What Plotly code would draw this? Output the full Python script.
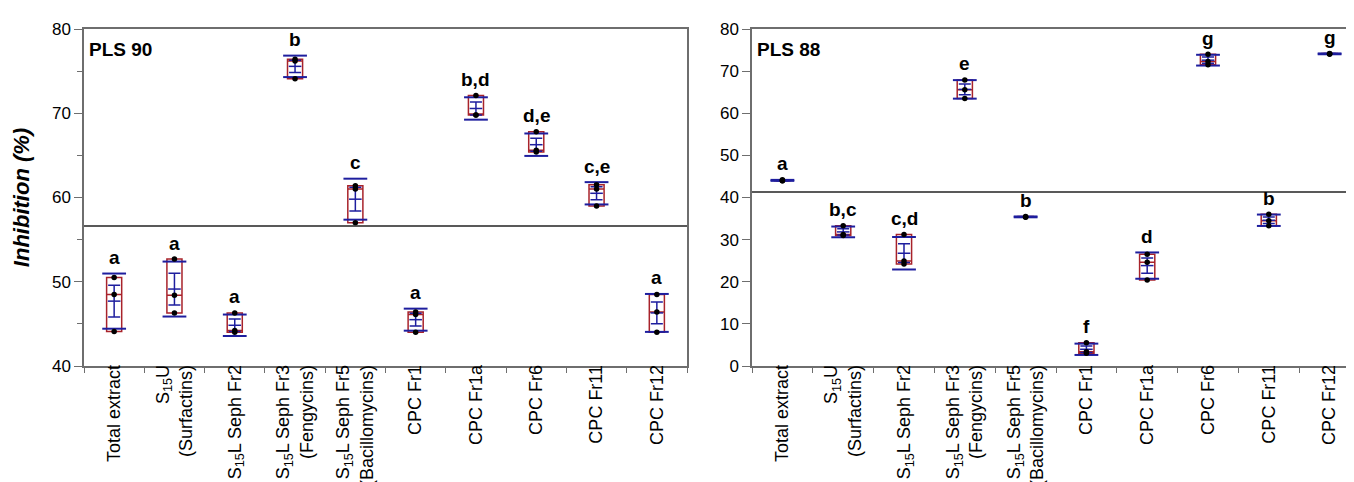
import numpy as np
import plotly.graph_objects as go

# ---------------- data ----------------
cat_keys = ["TE", "S15U", "Fr2", "Fr3", "Fr5", "CPC1", "CPC1a", "CPC6", "CPC11", "CPC12"]
cat_labels = [
    "Total extract",
    "S<sub>15</sub>U<br>(Surfactins)",
    "S<sub>15</sub>L Seph Fr2",
    "S<sub>15</sub>L Seph Fr3<br>(Fengycins)",
    "S<sub>15</sub>L Seph Fr5<br>(Bacillomycins)",
    "CPC Fr1",
    "CPC Fr1a",
    "CPC Fr6",
    "CPC Fr11",
    "CPC Fr12",
]

# three replicate inhibition values (%) per fraction
pls90_values = [
    [50.5, 48.5, 44.1],
    [52.7, 48.4, 46.3],
    [46.3, 44.0, 44.2],
    [76.4, 76.2, 74.1],
    [61.4, 61.0, 57.0],
    [46.4, 46.1, 44.0],
    [72.1, 69.8, 69.8],
    [67.8, 65.6, 65.4],
    [61.5, 61.0, 59.0],
    [48.5, 46.4, 44.0],
]
pls88_values = [
    [44.2, 44.0, 44.0],
    [33.3, 31.2, 31.0],
    [31.2, 24.9, 24.2],
    [67.9, 65.6, 63.5],
    [35.5, 35.3, 35.4],
    [5.5, 3.4, 3.0],
    [26.5, 24.6, 20.4],
    [74.0, 72.3, 71.5],
    [36.0, 34.5, 33.3],
    [74.2, 74.1, 74.0],
]
pls90_letters = ["a", "a", "a", "b", "c", "a", "b,d", "d,e", "c,e", "a"]
pls88_letters = ["a", "b,c", "c,d", "e", "b", "f", "d", "g", "b", "g"]

# ---------------- style ----------------
FONT = "Liberation Sans, Arial, sans-serif"
RED = "#A8232B"
BLUE = "#1E1E9E"
AXIS = "#6E6E6E"

fig = go.Figure()


def add_panel(values, letters, xa, ya, title):
    xs, ys = [], []
    for k, v in zip(cat_keys, values):
        xs += [k] * len(v)
        ys += list(v)
    arr = np.array(values, dtype=float)
    means = arr.mean(axis=1)
    sds = arr.std(axis=1, ddof=1)
    ses = sds / np.sqrt(arr.shape[1])

    fig.add_trace(go.Box(
        x=xs, y=ys, xaxis=xa, yaxis=ya,
        quartilemethod="exclusive",
        boxpoints=False,
        width=0.25, whiskerwidth=0,
        line=dict(color=RED, width=1.5),
        fillcolor="rgba(0,0,0,0)",
        showlegend=False, hoverinfo="y",
    ))
    # std dev lines
    fig.add_trace(go.Scatter(
        x=cat_keys + cat_keys, y=list(means + sds) + list(means - sds),
        xaxis=xa, yaxis=ya, mode="markers",
        marker=dict(symbol="line-ew-open", size=17, color=BLUE,
                    line=dict(color=BLUE, width=2)),
        showlegend=False, hoverinfo="y",
    ))
    # mean with standard error bars
    fig.add_trace(go.Scatter(
        x=cat_keys, y=means, xaxis=xa, yaxis=ya, mode="markers",
        marker=dict(symbol="line-ew-open", size=9, color=BLUE,
                    line=dict(color=BLUE, width=1.5)),
        error_y=dict(type="data", array=ses, color=BLUE, thickness=1.5, width=6),
        showlegend=False, hoverinfo="y",
    ))
    # replicate points
    fig.add_trace(go.Scatter(
        x=xs, y=ys, xaxis=xa, yaxis=ya, mode="markers",
        marker=dict(color="black", size=5.5),
        showlegend=False, hoverinfo="y",
    ))
    # grand mean line
    gm = float(arr.mean())
    fig.add_shape(type="line", xref=f"{xa} domain", x0=0, x1=1,
                  yref=ya, y0=gm, y1=gm, line=dict(color="#222222", width=1.5))
    # significance letters
    tops = np.maximum(arr.max(axis=1), means + sds)
    for k, t, L in zip(cat_keys, tops, letters):
        fig.add_annotation(x=k, y=float(t), xref=xa, yref=ya, text=f"<b>{L}</b>",
                           showarrow=False, yshift=16, yanchor="middle",
                           font=dict(family=FONT, size=19, color="black"))
    fig.add_annotation(xref=f"{xa} domain", yref=f"{ya} domain", x=0.005, y=0.975,
                       xanchor="left", yanchor="top", text=f"<b>{title}</b>",
                       showarrow=False, font=dict(family=FONT, size=19, color="black"))


add_panel(pls90_values, pls90_letters, "x", "y", "PLS 90")
add_panel(pls88_values, pls88_letters, "x2", "y2", "PLS 88")

xcommon = dict(
    type="category", categoryorder="array", categoryarray=cat_keys,
    tickvals=cat_keys, ticktext=cat_labels, tickangle=-90,
    tickson="boundaries", ticks="outside", ticklen=5, tickcolor=AXIS,
    ticklabelstandoff=-10,
    showline=True, linecolor=AXIS, linewidth=1.5, mirror=True,
    showgrid=False, zeroline=False, automargin=False,
    tickfont=dict(family=FONT, size=18, color="black"),
    range=[-0.5, 9.5],
)
ycommon = dict(
    ticks="outside", ticklen=8, tickcolor=AXIS,
    showline=True, linecolor=AXIS, linewidth=1.5, mirror=True,
    showgrid=False, zeroline=False, automargin=False,
    tickfont=dict(family=FONT, size=17, color="black"),
)

W, H = 1354, 482
ml, mr, mt, mb = 76, 2, 21, 124
pw = W - ml - mr
fig.update_layout(
    width=W, height=H,
    margin=dict(l=ml, r=mr, t=mt, b=mb),
    paper_bgcolor="white", plot_bgcolor="white",
    font=dict(family=FONT, color="black"),
    xaxis=dict(domain=[0, (679 - ml) / pw], **xcommon),
    xaxis2=dict(domain=[(744 - ml) / pw, 1], anchor="y2", **xcommon),
    yaxis=dict(range=[40, 80], dtick=10, minor=dict(dtick=5, ticks="outside", ticklen=5, tickcolor=AXIS),
               title=dict(text="<b><i>Inhibition (%)</i></b>", standoff=16,
                          font=dict(family=FONT, size=22, color="black")),
               **ycommon),
    yaxis2=dict(range=[0, 80], dtick=10, anchor="x2", **ycommon),
    boxmode="overlay",
)

fig.write_html("out.html")
